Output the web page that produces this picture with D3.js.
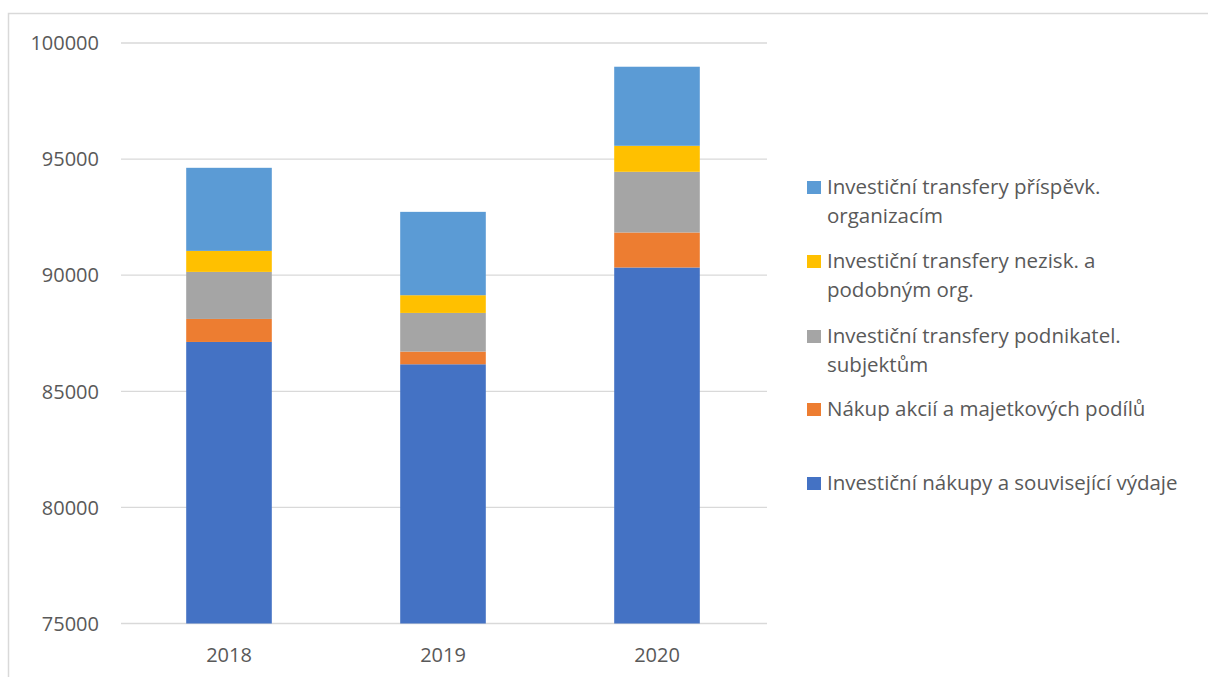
<!DOCTYPE html>
<html>
<head>
<meta charset="utf-8">
<script src="https://cdn.jsdelivr.net/npm/d3@7"></script>
<style>
  body { margin: 0; background: #fff; }
  svg { display: block; font-family: "Open Sans", sans-serif; }
</style>
</head>
<body>
<svg id="chart"></svg>
<script>
const years = ["2018", "2019", "2020"];

const seriesNames = [
  "Investiční nákupy a související výdaje",
  "Nákup akcií a majetkových podílů",
  "Investiční transfery podnikatel. subjektům",
  "Investiční transfery nezisk. a podobným org.",
  "Investiční transfery příspěvk. organizacím"
];

const nakupy     = [87125, 86164, 90332];
const akcie      = [991, 547, 1508];
const podnikatel = [2026, 1664, 2613];
const nezisk     = [905, 763, 1120];
const prispevk   = [3578, 3590, 3405];

const colors = ["#4472C4", "#ED7D31", "#A5A5A5", "#FFC000", "#5B9BD5"];
const yTicks = [75000, 80000, 85000, 90000, 95000, 100000];

const seriesValues = [nakupy, akcie, podnikatel, nezisk, prispevk];

const svg = d3.select("#chart")
  .attr("width", 1208)
  .attr("height", 677);

// outer frame (bottom edge is cut off in the picture)
svg.append("path")
  .attr("d", "M8.5,677 V13.5 H1208")
  .attr("fill", "none")
  .attr("stroke", "#d9d9d9")
  .attr("stroke-width", 1.5);

const x = d3.scaleBand()
  .domain(years)
  .range([122, 764])
  .paddingInner(0.6)
  .paddingOuter(0.3);

const y = d3.scaleLinear()
  .domain([75000, 100000])
  .range([623.5, 43]);

// grid lines
svg.append("g")
  .selectAll("line")
  .data(yTicks)
  .join("line")
  .attr("x1", 121)
  .attr("x2", 767)
  .attr("y1", d => y(d))
  .attr("y2", d => y(d))
  .attr("stroke", "#d9d9d9")
  .attr("stroke-width", 1.3);

// stacked data
const table = years.map((yr, i) => {
  const row = { year: yr };
  seriesNames.forEach((s, j) => row[s] = seriesValues[j][i]);
  return row;
});

const stack = d3.stack().keys(seriesNames);
const layers = stack(table);

// axis starts at 75000, so clip the first layer there
svg.append("g")
  .selectAll("g")
  .data(layers)
  .join("g")
  .attr("fill", (d, i) => colors[i])
  .selectAll("rect")
  .data(d => d)
  .join("rect")
  .attr("x", d => x(d.data.year))
  .attr("width", x.bandwidth())
  .attr("y", d => y(d[1]))
  .attr("height", d => y(Math.max(d[0], 75000)) - y(d[1]));

// y tick labels
svg.append("g")
  .selectAll("text")
  .data(yTicks)
  .join("text")
  .attr("x", 99)
  .attr("y", d => y(d))
  .attr("dy", "0.36em")
  .attr("text-anchor", "end")
  .attr("fill", "#595959")
  .style("font-size", "20px")
  .text(d => d);

// x tick labels
svg.append("g")
  .selectAll("text")
  .data(years)
  .join("text")
  .attr("x", d => x(d) + x.bandwidth() / 2)
  .attr("y", 662)
  .attr("text-anchor", "middle")
  .attr("fill", "#595959")
  .style("font-size", "20px")
  .text(d => d);

// legend, reversed order, word-wrapped
const legendTop = [194, 268, 343, 416, 490];
const legend = svg.append("g");
const order = d3.range(seriesNames.length).reverse();

order.forEach((si, k) => {
  const by = legendTop[k];
  legend.append("rect")
    .attr("x", 807)
    .attr("y", by - 13)
    .attr("width", 14)
    .attr("height", 13)
    .attr("fill", colors[si]);

  const t = legend.append("text")
    .attr("x", 827)
    .attr("y", by)
    .attr("fill", "#595959")
    .style("font-size", "20.5px");

  const words = seriesNames[si].split(" ");
  let line = [];
  let ts = t.append("tspan").attr("x", 827);
  for (const w of words) {
    line.push(w);
    ts.text(line.join(" "));
    if (ts.node().getComputedTextLength() > 375 && line.length > 1) {
      line.pop();
      ts.text(line.join(" "));
      line = [w];
      ts = t.append("tspan").attr("x", 827).attr("dy", 29).text(w);
    }
  }
});
</script>
</body>
</html>
